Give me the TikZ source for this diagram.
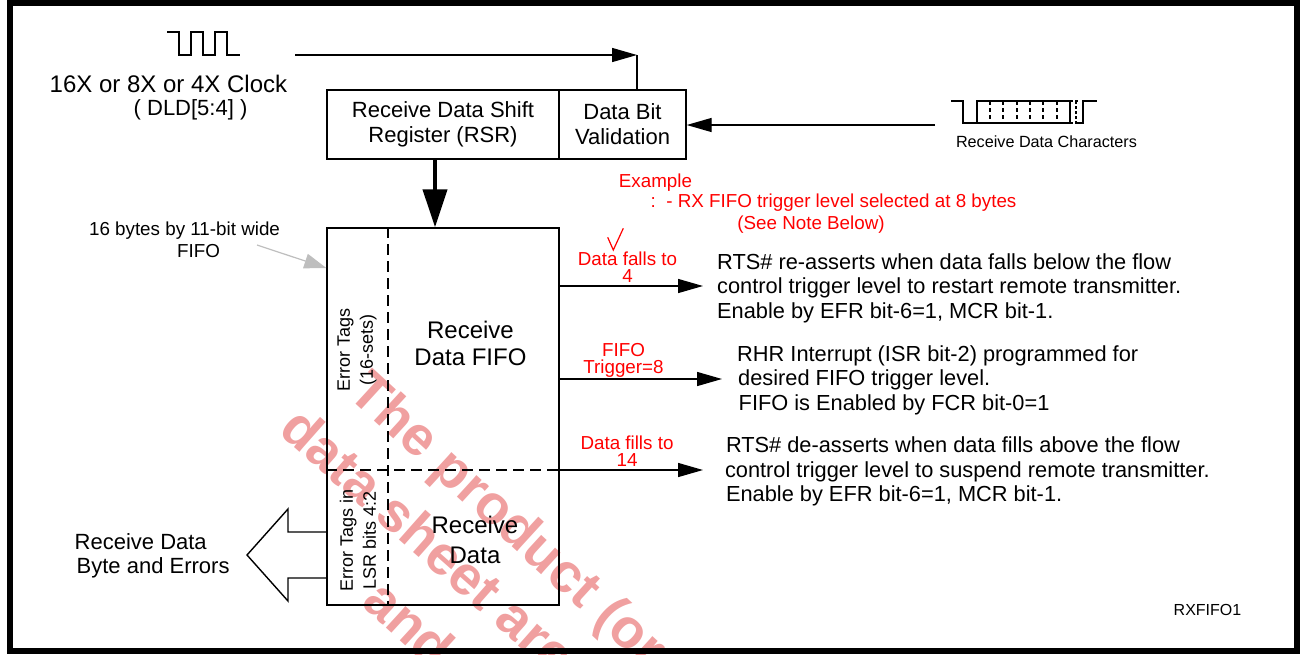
\documentclass[tikz,border=0pt]{standalone}
\usepackage{fontspec}
\setmainfont{Liberation Sans}
\usetikzlibrary{arrows.meta}
\definecolor{wm}{RGB}{240,160,160}
\definecolor{annred}{RGB}{255,0,0}
\definecolor{pointer}{RGB}{190,190,190}
\newcommand\fsz[2]{\fontsize{#1}{#2}\selectfont}
\begin{document}
\begin{tikzpicture}[x=1pt,y=-1pt,line width=1.4pt,
  arr/.style={-{Triangle[length=25pt,width=14pt]}},
  bigarr/.style={line width=4pt,-{Triangle[length=38pt,width=24pt]}},
  box/.style={draw,line width=1.4pt,inner sep=0pt,align=center,font=\fsz{22}{25}},
  lab/.style={inner sep=0pt,font=\fsz{22}{25}},
  desc/.style={inner sep=0pt,align=left,font=\fsz{21.8}{24.5},anchor=west},
  redlab/.style={inner sep=0pt,align=center,text=annred,font=\fsz{18.8}{17}},
  rot/.style={inner sep=0pt,align=center,rotate=90,font=\fsz{18}{23}},
  wmark/.style={inner sep=0pt,anchor=base west,rotate=-42.5,text=wm,font=\bfseries\fsz{55}{60}},
  wave/.style={line width=1.3pt},
  dsh/.style={dash pattern=on 11pt off 6pt}]
\useasboundingbox (0,0) rectangle (1301,654);
% watermark
\begin{scope}
\clip (0,0) rectangle (1301,654);
\node[wmark] (w1) at (346,395) {The product (or};
\node[wmark,rotate=1] (w2) at (277,432) {data sheet are};
\node[wmark] (w3) at (360,604) {and};
\end{scope}
% frame
\draw[line width=6pt] (10,3) rectangle (1297,651);
% clock waveform
\draw[wave] (167,32) -- (179,32) -- (179,55) -- (191,55) -- (191,32) -- (203,32) -- (203,55) -- (215,55) -- (215,32) -- (227,32) -- (227,55) -- (240,55);
\node[lab,anchor=base west,font=\fsz{24}{25}] (clk1) at (49,92.5) {16X or 8X or 4X Clock};
\node[lab,anchor=base west] (clk2) at (133,115) {( DLD[5:4] )};
% boxes
\node[box,minimum width=232pt,minimum height=69pt] (rsr) at (443,124.5) {Receive Data Shift\\Register (RSR)};
\node[box,minimum width=127pt,minimum height=69pt] (dbv) at (622.5,124.5) {Data Bit\\Validation};
% clock arrow
\coordinate (ckstart) at (295,55);
\coordinate (ck) at (637,55);
\draw[arr] (ckstart) -- (ck);
\draw (ck) -- (ck |- dbv.north);
% receive data characters
\coordinate (rdc) at (935,125);
\draw[arr] (rdc) -- (dbv.east |- rdc);
\draw[wave] (951,101) -- (963,101) -- (963,123) -- (1070,123);
\draw[wave] (977,123) -- (977,101) -- (1070,101) -- (1070,123);
\foreach \x in {990,1003,1017,1030,1043,1057} \draw[line width=1.1pt,dash pattern=on 4pt off 3pt] (\x,101) -- (\x,123);
\draw[line width=1.1pt,dash pattern=on 3pt off 2pt] (1070,101) -- (1078,101) (1070,123) -- (1078,123) (1076,101) -- (1076,123);
\draw[wave] (1078,123) -- (1083,123) -- (1083,101) -- (1097,101);
\node[inner sep=0pt,anchor=base,font=\fsz{16.2}{19}] (rdctxt) at (1046.5,147.5) {Receive Data Characters};
% FIFO
\node[draw,line width=1.4pt,minimum width=232pt,minimum height=377pt,inner sep=0pt] (fifo) at (443,416.5) {};
\draw[line width=1.3pt,dsh] (fifo.north -| 388,0) -- (fifo.south -| 388,0);
\draw[line width=1.3pt,dsh] (fifo.west |- 0,470) -- (fifo.east |- 0,470);
\draw[bigarr] ([xshift=-8pt]rsr.south) -- ([xshift=-8pt]fifo.north);
\node[rot] (et1) at (357,350) {Error Tags\\(16-sets)};
\node[rot] (et2) at (358,540) {Error Tags in\\LSR bits 4:2};
\node[inner sep=0pt,align=center,font=\fsz{24}{27}] (rdf) at (470.5,343.5) {Receive\\Data FIFO};
\node[inner sep=0pt,align=center,font=\fsz{24}{30}] (rd) at (475,539.5) {Receive\\Data};
% FIFO size pointer
\node[inner sep=0pt,anchor=base,font=\fsz{18.8}{22}] (sz1) at (184.5,235) {16 bytes by 11-bit wide};
\node[inner sep=0pt,anchor=base,font=\fsz{18.8}{22}] (sz2) at (198.5,257) {FIFO};
\coordinate (g1) at (257,245);
\draw[draw=pointer,line width=1.2pt,-{Triangle[length=22pt,width=15pt,fill=pointer]}] (g1) -- (fifo.west |- 0,268);
% output hollow arrow
\draw (fifo.west |- 0,532) -- (288,532) -- (288,509) -- (247,555) -- (288,601) -- (288,578) -- (fifo.west |- 0,578);
\node[lab,anchor=base west] (out1) at (74,549.5) {Receive Data};
\node[lab,anchor=base west] (out2) at (76,573.5) {Byte and Errors};
% example note
\node[redlab,anchor=base] (ex1) at (655.5,187) {Example};
\node[redlab,anchor=base west] (ex2) at (650,207) {:\ \ - RX FIFO trigger level selected at 8 bytes};
\node[redlab,anchor=base] (ex3) at (811,229) {(See Note Below)};
\draw[annred,line width=1.2pt] (607.7,237.3) -- (613.3,250) -- (623.3,228.3);
% trigger arrows
\coordinate (t1) at (703,286);
\coordinate (t2) at (722,379);
\coordinate (t3) at (703,470);
\draw[arr] (fifo.east |- t1) -- (t1);
\draw[arr] (fifo.east |- t2) -- (t2);
\draw[arr] (fifo.east |- t3) -- (t3);
\node[redlab] (l1) at (627.5,267.5) {Data falls to\\4};
\node[redlab] (l2) at (623.5,360) {FIFO\\Trigger=8};
\node[redlab] (l3) at (627,451) {Data fills to\\14};
\node[desc] (d1) at (716.5,288) {RTS\# re-asserts when data falls below the flow\\control trigger level to restart remote transmitter.\\Enable by EFR bit-6=1, MCR bit-1.};
\node[desc] (d2) at (736.5,380) {RHR Interrupt (ISR bit-2) programmed for\\\hspace*{1pt}desired FIFO trigger level.\\\hspace*{1.5pt}FIFO is Enabled by FCR bit-0=1};
\node[desc] (d3) at (724.3,471.5) {\hspace*{1pt}RTS\# de-asserts when data fills above the flow\\control trigger level to suspend remote transmitter.\\\hspace*{1pt}Enable by EFR bit-6=1, MCR bit-1.};
\node[inner sep=0pt,anchor=base,font=\fsz{16}{19}] (tag) at (1207.5,615) {RXFIFO1};
\end{tikzpicture}
\end{document}
